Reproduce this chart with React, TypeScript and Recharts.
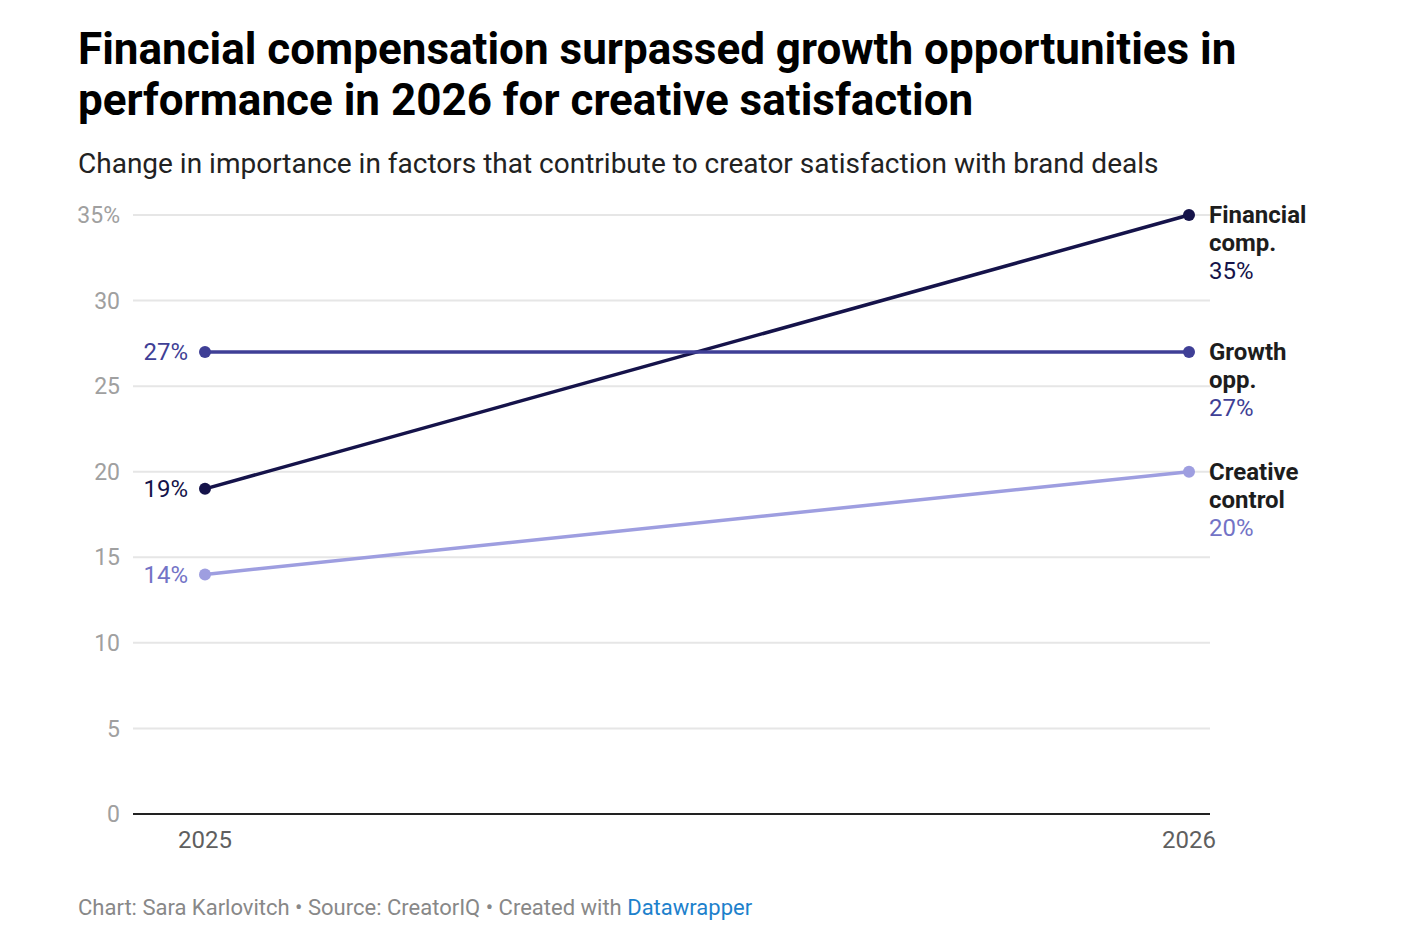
import React from "react";
import { LineChart, Line, XAxis, YAxis, CartesianGrid, LabelList } from "recharts";

const years = ["2025", "2026"];
const financialComp = [19, 35];
const growthOpp = [27, 27];
const creativeControl = [14, 20];
const yTicks = [0, 5, 10, 15, 20, 25, 30, 35];

const series = [
  { key: "financial", values: financialComp, name: ["Financial", "comp."], line: "#15134a", text: "#15134a" },
  { key: "growth", values: growthOpp, name: ["Growth", "opp."], line: "#3f3f96", text: "#3f3f96" },
  { key: "creative", values: creativeControl, name: ["Creative", "control"], line: "#9e9ee0", text: "#7373c6" },
];

const data = years.map((year, i) => {
  const row: Record<string, string | number> = { year };
  series.forEach((s) => (row[s.key] = s.values[i]));
  return row;
});

const FONT = "Roboto, sans-serif";

function makeLabel(s: (typeof series)[number]) {
  return (props: any) => {
    const { x, y, index, value } = props;
    if (index === 0) {
      return (
        <text x={x - 17} y={y} dy="0.35em" textAnchor="end" fontSize={24} fontFamily={FONT} fill={s.text}>
          {value}%
        </text>
      );
    }
    return (
      <text x={x + 20} y={y} fontFamily={FONT} fontSize={24}>
        <tspan x={x + 20} dy="0.35em" fontWeight={700} fill="#1d1d1d">{s.name[0]}</tspan>
        <tspan x={x + 20} dy={28} fontWeight={700} fill="#1d1d1d">{s.name[1]}</tspan>
        <tspan x={x + 20} dy={28} fill={s.text}>{value}%</tspan>
      </text>
    );
  };
}

export default function App() {
  return (
    <div style={{ position: "absolute", left: 0, top: 0, width: 1428, height: 940, background: "#fff", fontFamily: FONT }}>
      <div style={{ position: "absolute", left: 78, top: 24, fontSize: 44, fontWeight: 700, lineHeight: "51px", color: "#000", width: 1340 }}>
        Financial compensation surpassed growth opportunities in
        <br />
        performance in 2026 for creative satisfaction
      </div>
      <div style={{ position: "absolute", left: 78, top: 147, fontSize: 28, color: "#222" }}>
        Change in importance in factors that contribute to creator satisfaction with brand deals
      </div>
      <LineChart
        width={1428}
        height={940}
        data={data}
        margin={{ top: 215, right: 218, bottom: 86, left: 73 }}
        style={{ position: "absolute", left: 0, top: 0 }}
      >
        <CartesianGrid vertical={false} stroke="#e6e6e6" strokeWidth={2} />
        <XAxis
          dataKey="year"
          padding={{ left: 72, right: 21 }}
          axisLine={{ stroke: "#222", strokeWidth: 2 }}
          tickLine={false}
          tickSize={0}
          tickMargin={17}
          height={40}
          tick={{ fontSize: 24, fill: "#5f5f5f", fontFamily: FONT }}
        />
        <YAxis
          domain={[0, 35]}
          ticks={yTicks}
          width={60}
          axisLine={false}
          tickLine={false}
          tickSize={0}
          tickMargin={13}
          tickFormatter={(v: number) => (v === 35 ? "35%" : String(v))}
          tick={{ fontSize: 23, fill: "#a0a0a0", fontFamily: FONT }}
        />
        {series.map((s) => (
          <Line
            key={s.key}
            dataKey={s.key}
            stroke={s.line}
            strokeWidth={3.5}
            dot={{ r: 6, fill: s.line, stroke: "none" }}
            activeDot={false}
            isAnimationActive={false}
          >
            <LabelList dataKey={s.key} content={makeLabel(s)} />
          </Line>
        ))}
      </LineChart>
      <div style={{ position: "absolute", left: 78, top: 895, fontSize: 22, color: "#888" }}>
        Chart: Sara Karlovitch • Source: CreatorIQ • Created with <span style={{ color: "#1d81cc" }}>Datawrapper</span>
      </div>
    </div>
  );
}
